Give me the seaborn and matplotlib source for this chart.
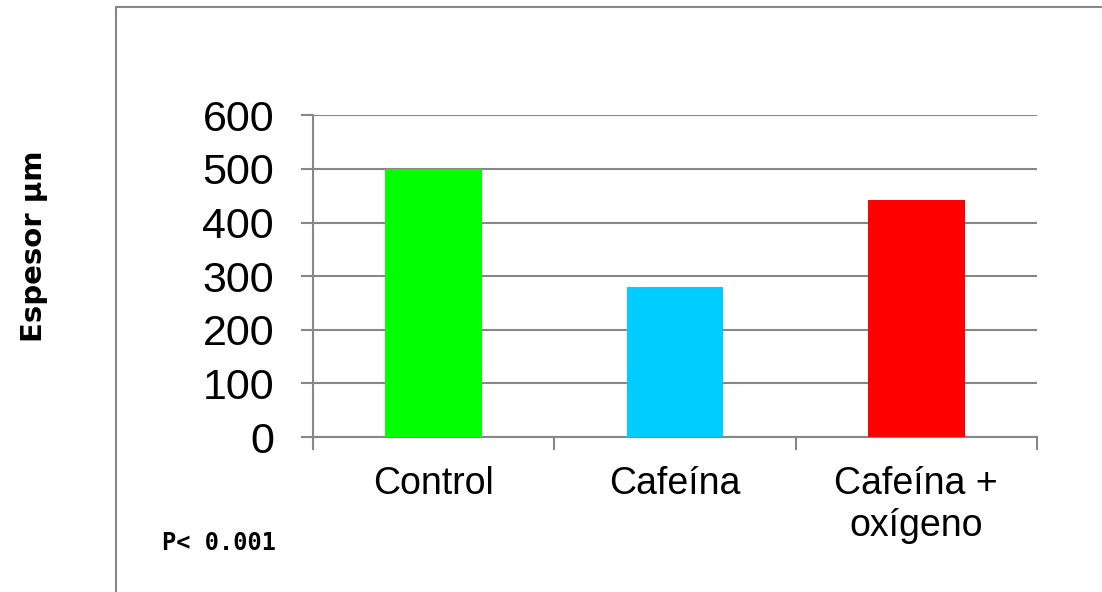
import matplotlib
matplotlib.use("Agg")
import matplotlib.pyplot as plt
import seaborn as sns
import pandas as pd
from matplotlib.patches import Rectangle
from matplotlib.ticker import FixedLocator

# Tissue thickness per treatment group
grupos = ["Control", "Cafeína", "Cafeína +\noxígeno"]
espesor = [500, 280, 442]
colores = ["#00FF00", "#00CCFF", "#FF0000"]
yticks = [0, 100, 200, 300, 400, 500, 600]

sns.set_theme(style="white")
plt.rcParams["font.family"] = ["Liberation Sans", "DejaVu Sans"]
plt.rcParams["text.color"] = "black"

df = pd.DataFrame({"grupo": grupos, "espesor": espesor})

fig = plt.figure(figsize=(11.02, 5.92), dpi=100)
ax = fig.add_axes([0.2840, 0.2618, 0.6570, 0.5433])

sns.barplot(data=df, x="grupo", y="espesor", hue="grupo", palette=colores,
            width=0.40, saturation=1, legend=False, ax=ax, zorder=3,
            linewidth=0)

gris = "#878787"
ax.set_ylim(0, 600)
ax.set_xlim(-0.5, 2.5)
ax.set_yticks(yticks)
ax.set_yticklabels([str(v) for v in yticks])
ax.yaxis.grid(True, color=gris, linewidth=1.5, zorder=0)
ax.set_axisbelow(True)

# category boundaries carry the tick marks, labels sit at the bar centres
ax.xaxis.set_major_locator(FixedLocator([-0.5, 0.5, 1.5, 2.5]))
ax.set_xticklabels([])
ax.xaxis.set_minor_locator(FixedLocator([0, 1, 2]))
ax.set_xticklabels(grupos, minor=True, linespacing=1.2)
ax.tick_params(axis="x", which="major", bottom=True, length=9, width=1.5,
               color=gris, direction="out")
ax.tick_params(axis="x", which="minor", bottom=True, length=0, pad=21,
               labelsize=27, labelcolor="black")
ax.tick_params(axis="y", left=True, length=9, width=1.5, color=gris,
               direction="out", pad=19, labelsize=31, labelcolor="black")
ax.set_xlabel("")
ax.set_ylabel("")

for s in ["top", "right"]:
    ax.spines[s].set_visible(False)
for s in ["left", "bottom"]:
    ax.spines[s].set_color(gris)
    ax.spines[s].set_linewidth(1.5)

# outer frame of the chart area
fig.patches.append(Rectangle((116 / 1102, -0.05), 1.1, 1 - 7 / 592 + 0.05,
                             transform=fig.transFigure, fill=False,
                             edgecolor=gris, linewidth=1.5))

fig.text(34 / 1102, 1 - 246 / 592, "Espesor µm", rotation=90, ha="center",
         va="center", fontsize=21, fontweight="bold", color="black",
         family=["DejaVu Sans"])
fig.text(162 / 1102, 1 - 543 / 592, "P< 0.001", ha="left", va="center",
         fontsize=17, fontweight="bold", color="black",
         family=["DejaVu Sans Mono"])

fig.savefig("out.png", dpi=100)
